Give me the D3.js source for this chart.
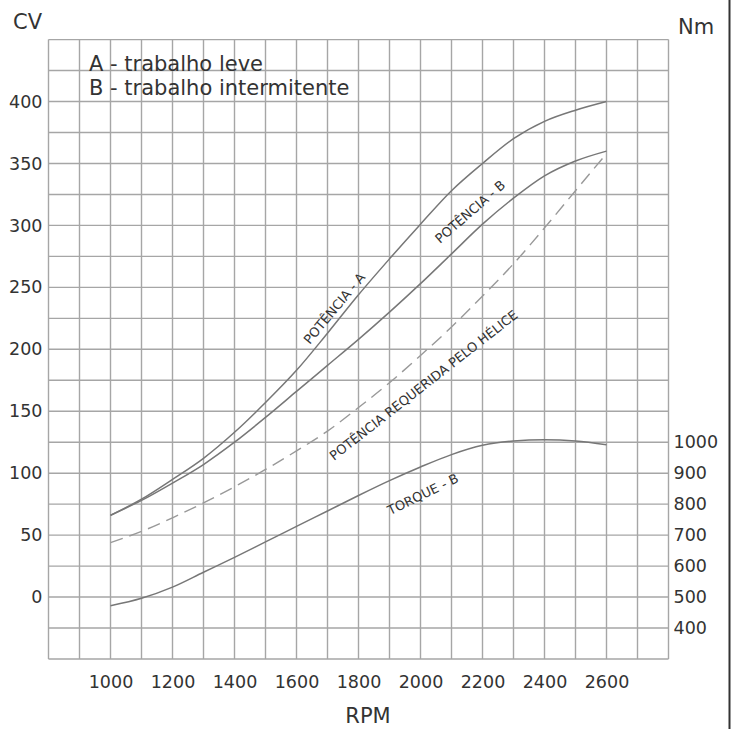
<!DOCTYPE html>
<html>
<head>
<meta charset="utf-8">
<script src="https://d3js.org/d3.v7.min.js"></script>
<style>
  body { margin: 0; background: #fff; }
  text { font-family: "DejaVu Sans", Verdana, sans-serif; fill: #333; }
</style>
</head>
<body>
<div id="chart"></div>
<script>
//data
var rpm = [1000, 1100, 1200, 1300, 1400, 1500, 1600, 1700, 1800, 1900, 2000, 2100, 2200, 2300, 2400, 2500, 2600];
var potenciaA = [66, 79, 95, 112, 133, 157, 183, 213, 244, 273, 301, 328, 350, 370, 384, 393, 400];
var potenciaB = [66, 78, 92, 107, 125, 145, 166, 187, 208, 230, 253, 277, 301, 322, 340, 352, 360];
var helice = [44, 53, 64, 76, 89, 103, 118, 134, 153, 173, 195, 218, 243, 269, 298, 328, 358];
var torqueB = [472, 496, 532, 580, 628, 678, 728, 778, 828, 876, 920, 960, 990, 1004, 1008, 1004, 992];

var xTicks = [1000, 1200, 1400, 1600, 1800, 2000, 2200, 2400, 2600];
var cvTicks = [0, 50, 100, 150, 200, 250, 300, 350, 400];
var nmTicks = [400, 500, 600, 700, 800, 900, 1000];
var legendLines = ["A - trabalho leve", "B - trabalho intermitente"];

//chart set ups
var svgWidth = 736;
var svgHeight = 729;

var svg = d3.select('#chart')
            .append('svg')
            .attr('width', svgWidth)
            .attr('height', svgHeight);

var x = d3.scaleLinear().domain([800, 2800]).range([48.5, 668.5]);
var y = d3.scaleLinear().domain([-50, 450]).range([659, 39.6]);
// torque axis shares the grid: 500 Nm sits on 0 CV, 100 Nm per 25 CV
var yNm = d3.scaleLinear().domain([300, 2300]).range([659, 39.6]);

// grid
var grid = svg.append('g')
    .attr('stroke', '#a6a6a6')
    .attr('stroke-width', 1.4);
grid.selectAll('line.v')
    .data(d3.range(800, 2801, 100))
    .enter()
    .append('line')
    .attr('x1', d => x(d)).attr('x2', d => x(d))
    .attr('y1', y(-50)).attr('y2', y(450));
grid.selectAll('line.h')
    .data(d3.range(-50, 451, 25))
    .enter()
    .append('line')
    .attr('x1', x(800)).attr('x2', x(2800))
    .attr('y1', d => y(d)).attr('y2', d => y(d));

//axes
var fmt = d3.format('d');
var bottomAxis = d3.axisBottom(x).tickValues(xTicks).tickFormat(fmt).tickSize(0).tickPadding(0);
var leftAxis = d3.axisLeft(y).tickValues(cvTicks).tickFormat(fmt).tickSize(0).tickPadding(0);
var rightAxis = d3.axisRight(yNm).tickValues(nmTicks).tickFormat(fmt).tickSize(0).tickPadding(0);

var xAxis = svg.append('g')
    .attr('transform', `translate(0,${y(-50) + 17})`)
    .call(bottomAxis);
var cvAxis = svg.append('g')
    .attr('transform', `translate(${x(800) - 6},0)`)
    .call(leftAxis);
var nmAxis = svg.append('g')
    .attr('transform', `translate(${x(2800) + 5},0)`)
    .call(rightAxis);

[xAxis, cvAxis, nmAxis].forEach(a => {
    a.select('.domain').remove();
    a.selectAll('text')
        .attr('font-size', '17.5px')
        .attr('font-family', '"DejaVu Sans", Verdana, sans-serif')
        .attr('fill', '#333');
});

// curves
var line = d3.line()
    .x((d, i) => x(rpm[i]))
    .y(d => y(d))
    .curve(d3.curveMonotoneX);
var lineNm = d3.line()
    .x((d, i) => x(rpm[i]))
    .y(d => yNm(d))
    .curve(d3.curveMonotoneX);

svg.append('path').datum(potenciaA)
    .attr('d', line).attr('fill', 'none')
    .attr('stroke', '#777').attr('stroke-width', 1.5);
svg.append('path').datum(potenciaB)
    .attr('d', line).attr('fill', 'none')
    .attr('stroke', '#777').attr('stroke-width', 1.5);
svg.append('path').datum(helice)
    .attr('d', line).attr('fill', 'none')
    .attr('stroke', '#999').attr('stroke-width', 1.4)
    .attr('stroke-dasharray', '13,7');
svg.append('path').datum(torqueB)
    .attr('d', lineNm).attr('fill', 'none')
    .attr('stroke', '#777').attr('stroke-width', 1.5);

// curve labels
var curveLabels = [
    {text: "POTÊNCIA - A", rpm: 1722, cv: 233, angle: -50},
    {text: "POTÊNCIA - B", rpm: 2160, cv: 311, angle: -41},
    {text: "POTÊNCIA REQUERIDA PELO HÉLICE", rpm: 2010, cv: 171, angle: -38},
    {text: "TORQUE - B", rpm: 2008, cv: 83, angle: -26}
];
svg.selectAll('text.curve')
    .data(curveLabels)
    .enter()
    .append('text')
    .attr('class', 'curve')
    .attr('transform', d => `translate(${x(d.rpm)},${y(d.cv)}) rotate(${d.angle})`)
    .attr('text-anchor', 'middle')
    .attr('dy', '0.35em')
    .attr('font-size', '13px')
    .attr('fill', '#333')
    .text(d => d.text);

// legend
svg.selectAll('text.legend')
    .data(legendLines)
    .enter()
    .append('text')
    .attr('class', 'legend')
    .attr('x', 89)
    .attr('y', (d, i) => 71 + i * 24)
    .attr('font-size', '21px')
    .text(d => d);

//axis titles
svg.append('text').attr('x', 13).attr('y', 29).attr('font-size', '21px').text('CV');
svg.append('text').attr('x', 678).attr('y', 34).attr('font-size', '21px').text('Nm');
svg.append('text').attr('x', 368).attr('y', 723).attr('text-anchor', 'middle')
    .attr('font-size', '21px').text('RPM');

// frame edge on the right
svg.append('line')
    .attr('x1', 729.5).attr('x2', 729.5)
    .attr('y1', 0).attr('y2', svgHeight)
    .attr('stroke', '#333').attr('stroke-width', 2);
</script>
</body>
</html>
